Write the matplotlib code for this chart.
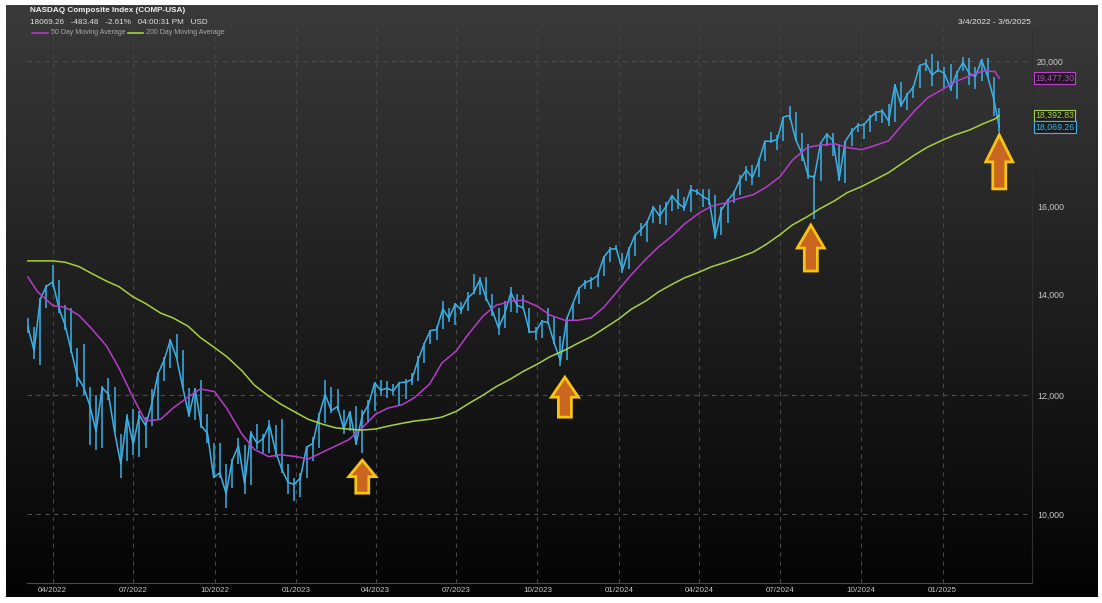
import numpy as np
import pandas as pd
import matplotlib.pyplot as plt
import matplotlib.dates as mdates
import matplotlib.ticker as mticker
import matplotlib.transforms as mtransforms
from matplotlib.patches import Polygon

plt.rcParams['font.family'] = ['Liberation Sans', 'DejaVu Sans']

# weekly bars (week ending), last week ends on Thursday 3/6/2025
week_end = pd.date_range('2022-03-04', '2025-03-07', freq='W-FRI')
week_end = week_end[:-1].append(pd.DatetimeIndex(['2025-03-06']))

close = [13313, 12843, 13894, 14169, 14261, 13711, 13351, 12839, 12335, 12145,
         11805, 11354, 12131, 12013, 11340, 10798, 11608, 11128, 11635, 11452,
         11834, 12391, 12658, 13047, 12706, 12142, 11631, 12112, 11448, 11312,
         10576, 10652, 10321, 10860, 11102, 10475, 11323, 11146, 11226, 11461,
         11005, 10705, 10498, 10466,
         10569, 11079, 11140, 11622, 12007, 11718, 11787, 11395, 11689, 11138,
         11630, 11824, 12222, 12088, 12123, 12072, 12227, 12235, 12284, 12658,
         12975, 13241, 13259, 13689, 13492, 13788, 13661, 13918, 14032, 14316,
         13909, 13645, 13291, 13590, 14031, 13761, 13708, 13212, 13219, 13431,
         13407, 12984, 12643, 13478, 13798, 14125, 14251, 14305, 14404, 14814,
         14992, 15011,
         14524, 14973, 15311, 15455, 15629, 15990, 15776, 15997, 16275, 16085,
         15973, 16429, 16379, 16249, 16175, 15282, 15928, 16156, 16341, 16686,
         16921, 16735, 17133, 17689, 17689, 17733, 18353, 18398, 17727, 17358,
         16776, 16745, 17631, 17878, 17714, 16691, 17684, 17948, 18120, 18138,
         18343, 18490, 18519, 18240, 19287, 18680, 19004, 19218, 19860, 19926,
         19573, 19722,
         19622, 19162, 19630, 19954, 19627, 19524, 20027, 19524, 18847, 18069]

high = [13500, 13320, 13920, 14200, 14646, 14300, 13760, 13710, 12900, 12975,
        12150, 12000, 12160, 12320, 12150, 11300, 11650, 11750, 11700, 11600,
        12100, 12420, 12720, 13080, 13181, 12860, 12120, 12130, 12270, 11650,
        11150, 11150, 10800, 10880, 11230, 11120, 11350, 11480, 11310, 11550,
        11460, 11570, 10790, 10560,
        10650, 11100, 11250, 11670, 12270, 12140, 12100, 11720, 11700, 11800,
        11730, 11900, 12230, 12270, 12250, 12200, 12240, 12300, 12400, 12730,
        13000, 13260, 13340, 13860, 13700, 13820, 13840, 14050, 14446, 14380,
        14370, 14010, 13700, 13850, 14150, 14000, 13990, 13710, 13310, 13450,
        13710, 13540, 13130, 13520, 13810, 14150, 14300, 14370, 14430, 14850,
        15050, 15100,
        14900, 15050, 15320, 15620, 15650, 16010, 16050, 16130, 16300, 16450,
        16250, 16540, 16450, 16450, 16450, 16300, 16000, 16200, 16400, 16800,
        17030, 17050, 17240, 17700, 17940, 17860, 18360, 18671, 18500, 17900,
        17600, 16800, 17650, 17900, 17900, 17600, 17700, 18050, 18190, 18200,
        18420, 18530, 18570, 18720, 19320, 19370, 19050, 19260, 19880, 20060,
        20200, 20000,
        19800, 19920, 19700, 20120, 20100, 19800, 20050, 20100, 19500, 18600]

low = [13200, 12680, 12555, 13700, 14150, 13600, 13250, 12800, 12150, 12000,
       11108, 11035, 11070, 11900, 11330, 10565, 10850, 10950, 10920, 11070,
       11450, 11550, 12250, 12500, 12680, 12130, 11600, 11550, 11410, 11150,
       10560, 10560, 10089, 10400, 10800, 10320, 10450, 11050, 10980, 10980,
       10920, 10650, 10310, 10207,
       10265, 10570, 10850, 11070, 11500, 11680, 11700, 11300, 11350, 11120,
       10982, 11500, 11700, 11980, 11950, 11990, 11800, 11930, 12180, 12250,
       12600, 12980, 13050, 13280, 13420, 13350, 13580, 13650, 14000, 13980,
       13850, 13540, 13161, 13290, 13620, 13600, 13690, 13200, 13050, 13100,
       13380, 12980, 12544, 12650, 13450, 13800, 14100, 14100, 14150, 14400,
       14700, 14970,
       14450, 14550, 14850, 15300, 15150, 15600, 15580, 15570, 15900, 15950,
       15900, 15880, 16280, 16000, 16050, 15223, 15320, 15600, 16100, 16300,
       16650, 16550, 16750, 17150, 17630, 17450, 17700, 18280, 17700, 17150,
       16700, 15708, 16650, 17550, 17300, 16650, 16600, 17550, 17950, 17750,
       17950, 18250, 18180, 18100, 18220, 18650, 18550, 18900, 19200, 19700,
       19260, 19650,
       19200, 19100, 18870, 19700, 19270, 19150, 19400, 19500, 18370, 17950]

# moving averages (1st and 15th of each month)
ma_dates = pd.DatetimeIndex(['2022-03-04']).append(
    pd.date_range('2022-03-15', '2025-03-01', freq='SMS')).append(
    pd.DatetimeIndex(['2025-03-06']))

ma50 = [14370, 14050, 13760, 13720, 13550, 13280, 12930, 12500, 11950, 11530,
        11560, 11760, 11960, 12110, 12060, 11750, 11300, 11040, 10920, 10950,
        10920, 10880, 11000, 11100, 11200, 11380, 11650, 11760, 11820, 11950,
        12200, 12600, 12830, 13170, 13550, 13760, 13850, 13870, 13740, 13560,
        13450, 13450, 13500, 13720,
        14100, 14420, 14780, 15050, 15300, 15580, 15850, 16020, 16100, 16200,
        16300, 16480, 16750, 17180, 17520, 17580, 17620, 17520, 17460, 17560,
        17700, 18100, 18550, 18900,
        19150, 19370, 19550, 19690, 19680, 19477]

ma200 = [14730, 14730, 14730, 14700, 14600, 14450, 14280, 14160, 13940, 13800,
         13600, 13500, 13330, 13100, 12900, 12720, 12450, 12180, 11980, 11830,
         11680, 11560, 11470, 11410, 11390, 11370, 11390, 11440, 11490, 11530,
         11560, 11600, 11700, 11840, 12000, 12150, 12300, 12440, 12580, 12720,
         12850, 12980, 13120, 13280,
         13480, 13680, 13860, 14050, 14210, 14350, 14480, 14600, 14700, 14800,
         14930, 15100, 15330, 15560, 15760, 15950, 16150, 16350, 16500, 16660,
         16860, 17080, 17330, 17530,
         17720, 17860, 18000, 18160, 18300, 18393]

# arrows under the pullbacks
arrow_dates = pd.to_datetime(['2023-03-17', '2023-11-01', '2024-08-05', '2025-03-06'])
arrow_tips = [10860, 12330, 15560, 17860]
arrow_heights = [33, 40, 46, 54]

quarter_ticks = pd.date_range('2022-04-01', '2025-01-01', freq='QS')
y_ticks = [10000, 12000, 14000, 16000, 20000]
grid_levels = [10000, 12000, 20000]

last_vals = [(19477.30, '#c040d0'), (18392.83, '#a8d43a'), (18069.26, '#3fb2e8')]

CYAN = '#3ab2e8'
MAGENTA = '#b83ccc'
GREEN = '#a6d23c'

W, H = 1102, 603
fig = plt.figure(figsize=(W / 100, H / 100), dpi=100, facecolor='white')

# dark gradient panel
bg = fig.add_axes([6 / W, 6 / H, 1092 / W, 592 / H], zorder=0)
grad = np.linspace(0, 1, 256).reshape(-1, 1)
top_c = np.array([0x3a, 0x3a, 0x3a]) / 255
bot_c = np.array([0x03, 0x03, 0x03]) / 255
img = top_c + (bot_c - top_c) * grad[:, :, None]
bg.imshow(img, aspect='auto', extent=[0, 1, 0, 1])
bg.axis('off')

ax = fig.add_axes([27 / W, 20 / H, 1005 / W, 554 / H], zorder=1)
ax.patch.set_alpha(0)
ax.set_yscale('log')
ax.set_ylim(9000, 21000)
ax.set_xlim(pd.Timestamp('2022-03-03'), pd.Timestamp('2025-04-12'))

# grid
for d in quarter_ticks:
    ax.axvline(d, color='#464646', lw=0.8, ls=(0, (4, 4)), zorder=1)
for g in grid_levels:
    ax.axhline(g, color='#4e4e4e', lw=0.8, ls=(0, (4, 4)), zorder=1)

# price bars
ax.vlines(week_end, low, high, color=CYAN, lw=1.1, zorder=3)
ax.plot(week_end, close, color=CYAN, lw=1.1, zorder=3)

ax.plot(ma_dates, ma50, color=MAGENTA, lw=1.1, zorder=4)
ax.plot(ma_dates, ma200, color=GREEN, lw=1.1, zorder=4)


def up_arrow(date, tip, height):
    hw, sw = 13.5 / 100, 6.5 / 100
    head = height * 0.5 / 100
    h = height / 100
    verts = [(0, 0), (hw, -head), (sw, -head), (sw, -h), (-sw, -h), (-sw, -head), (-hw, -head)]
    trans = fig.dpi_scale_trans + mtransforms.ScaledTranslation(
        mdates.date2num(date), tip, ax.transData)
    ax.add_patch(Polygon(verts, closed=True, fc='#c9661f', ec='#f8c414', lw=2.0,
                         transform=trans, zorder=6, joinstyle='miter'))


for d, t, hgt in zip(arrow_dates, arrow_tips, arrow_heights):
    up_arrow(d, t, hgt)

# axes styling
for s in ['top', 'left']:
    ax.spines[s].set_visible(False)
ax.spines['bottom'].set_color('#4a4a4a')
ax.spines['right'].set_color('#2e2e2e')
ax.spines['right'].set_linewidth(0.8)

ax.xaxis.set_major_locator(mticker.FixedLocator(mdates.date2num(quarter_ticks)))
ax.xaxis.set_major_formatter(mdates.DateFormatter('%m/%Y'))
ax.tick_params(axis='x', length=0, pad=3, labelsize=5.8, colors='#c8c8c8')

ax.yaxis.tick_right()
ax.yaxis.set_major_locator(mticker.FixedLocator(y_ticks))
ax.yaxis.set_minor_locator(mticker.NullLocator())
ax.yaxis.set_major_formatter(mticker.FuncFormatter(lambda v, p: f'{v:,.0f}'))
ax.tick_params(axis='y', length=0, pad=3.5, labelsize=6.3, colors='#c8c8c8')

# last value tags
tag_trans = mtransforms.blended_transform_factory(ax.transAxes, ax.transData)
for v, c in last_vals:
    ax.text(1.0 + 3 / 1005, v, f'{v:,.2f}', transform=tag_trans, fontsize=6.3,
            color=c, va='center', ha='left', zorder=7, clip_on=False,
            bbox=dict(boxstyle='square,pad=0.15', fc='#1c1c1c', ec=c, lw=0.8))

# header
fig.text(30 / W, 1 - 11 / H, 'NASDAQ Composite Index (COMP-USA)', fontsize=5.9,
         fontweight='bold', color='#f0f0f0', va='center')
fig.text(30 / W, 1 - 22 / H, '18069.26   -483.48   -2.61%   04:00:31 PM   USD',
         fontsize=5.9, color='#e0e0e0', va='center')
fig.lines.append(plt.Line2D([32 / W, 48 / W], [1 - 33 / H] * 2, color=MAGENTA, lw=1.2,
                            transform=fig.transFigure))
fig.text(51 / W, 1 - 33 / H, '50 Day Moving Average', fontsize=5.0, color='#a8a8a8', va='center')
fig.lines.append(plt.Line2D([128 / W, 143 / W], [1 - 33 / H] * 2, color=GREEN, lw=1.2,
                            transform=fig.transFigure))
fig.text(146 / W, 1 - 33 / H, '200 Day Moving Average', fontsize=5.0, color='#a8a8a8', va='center')
fig.text(1031 / W, 1 - 23 / H, '3/4/2022 - 3/6/2025', fontsize=6, color='#e8e8e8',
         va='center', ha='right')

fig.savefig('out.png', dpi=100, facecolor='white')
